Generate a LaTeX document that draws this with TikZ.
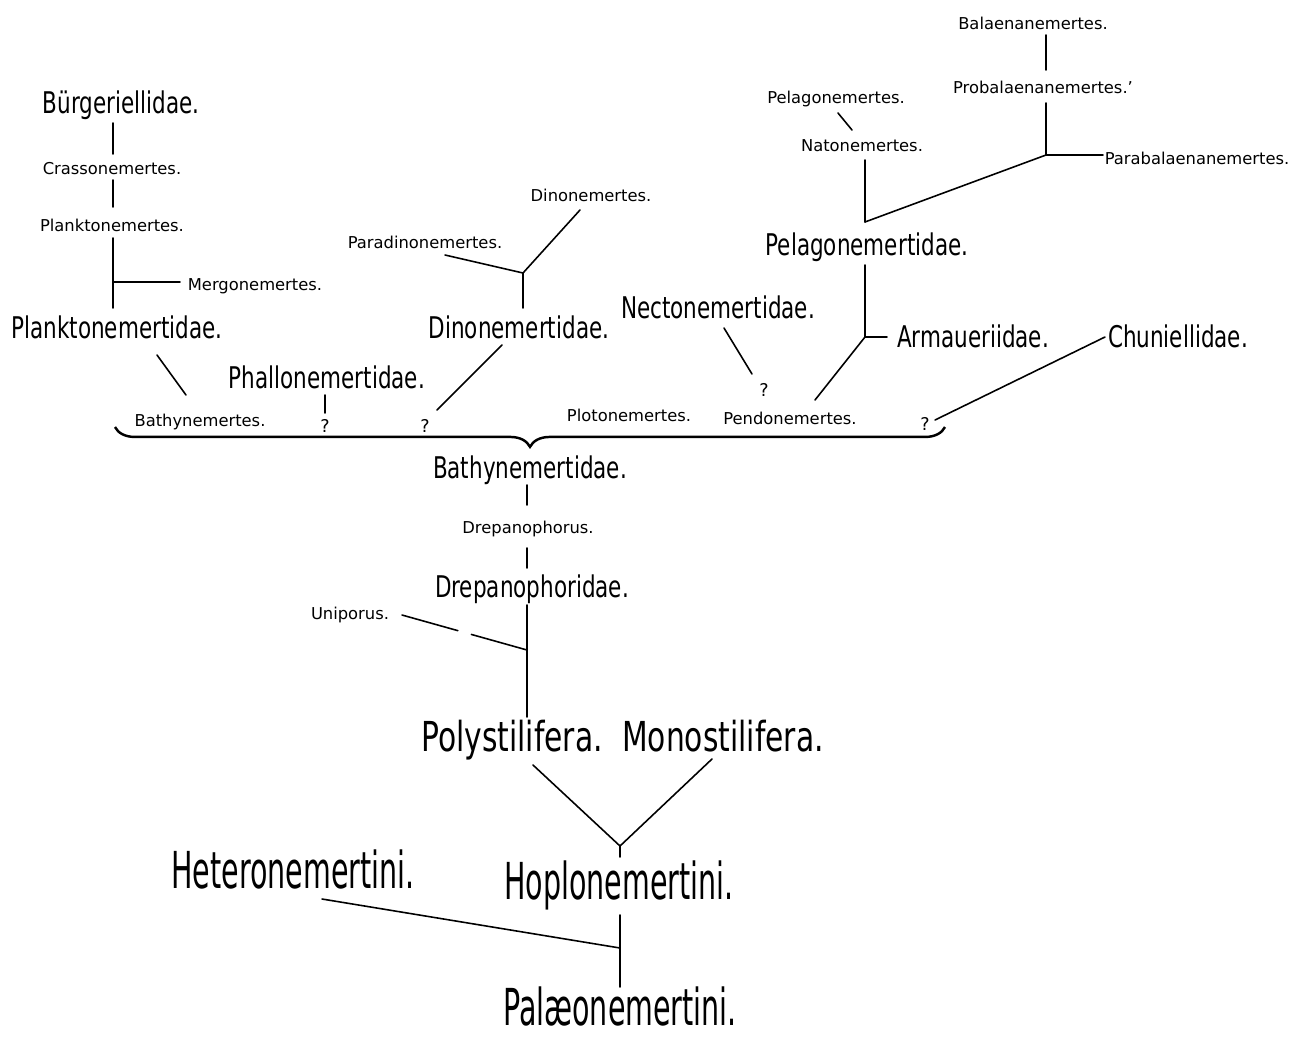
\documentclass[tikz,border=0pt]{standalone}
\usepackage{fontspec}
\setmainfont{DejaVu Sans}
\newfontfamily\handfont{DejaVu Sans}[FakeStretch=0.72]
\newfontfamily\handtall{DejaVu Sans}[FakeStretch=0.56]
\usepackage{tikz}
\usetikzlibrary{calc, decorations.pathreplacing}
\tikzset{
  genus/.style={
    inner sep=1pt, text height=9.4pt, text depth=2.5pt,
    font=\fontsize{9.3pt}{11pt}\selectfont
  },
  qmark/.style={
    inner sep=1pt, text height=9.4pt, text depth=2.5pt,
    font=\fontsize{10pt}{11pt}\selectfont
  },
  family/.style={
    inner sep=1pt, text height=16.4pt, text depth=4pt,
    font=\handfont\fontsize{17pt}{20pt}\selectfont
  },
  order/.style={
    inner sep=1pt, text height=21.5pt, text depth=4.5pt,
    font=\handfont\fontsize{23.5pt}{28pt}\selectfont
  },
  tribe/.style={
    inner sep=1pt, text height=23pt, text depth=2pt,
    font=\handtall\fontsize{29pt}{32pt}\selectfont
  },
  link/.style={line width=0.9pt, line cap=round},
  bracestroke/.style={
    line width=1.4pt, decorate,
    decoration={brace, mirror, amplitude=11.3pt}
  }
}

\begin{document}
\begin{tikzpicture}[x=0.02cm, y=-0.02cm]
  \useasboundingbox (0,0) rectangle (1306,1039);

  \node[family] (burg) at (121,103) {Bürgeriellidae.};
  \node[genus] (crasso) at (112,168) {Crassonemertes.};
  \node[genus] (plankg) at (112,225) {Planktonemertes.};
  \node[genus] (mergo) at (255,284) {Mergonemertes.};
  \node[family] (plankt) at (117,328) {Planktonemertidae.};
  \node[genus] (bathyg) at (200,420) {Bathynemertes.};
  \node[family] (phall) at (327,378) {Phallonemertidae.};
  \node[qmark] (q1) at (325,426) {?};
  \node[qmark] (q2) at (425,426) {?};

  \node[genus] (dinog) at (591,195) {Dinonemertes.};
  \node[genus] (paradino) at (425,242) {Paradinonemertes.};
  \node[family] (dinot) at (519,328) {Dinonemertidae.};
  \node[family] (necto) at (718,308) {Nectonemertidae.};
  \node[qmark] (q3) at (764,390) {?};
  \node[genus] (plotog) at (629,415) {Plotonemertes.};
  \node[genus] (pendog) at (790,418) {Pendonemertes.};
  \node[qmark] (q4) at (925,424) {?};

  \node[genus] (pelagg) at (836,97) {Pelagonemertes.};
  \node[genus] (natog) at (862,145) {Natonemertes.};
  \node[genus] (balaen) at (1033,23) {Balaenanemertes.};
  \node[genus] (probal) at (1043,87) {Probalaenanemertes.'};
  \node[genus] (parabal) at (1197,158) {Parabalaenanemertes.};
  \node[family] (pelagt) at (867,245) {Pelagonemertidae.};
  \node[family] (armau) at (973,337) {Armaueriidae.};
  \node[family] (chun) at (1178,337) {Chuniellidae.};

  \node[family] (bathyt) at (530,468) {Bathynemertidae.};
  \node[genus] (drepg) at (528,527) {Drepanophorus.};
  \node[family] (drept) at (532,587) {Drepanophoridae.};
  \node[genus] (unip) at (350,613) {Uniporus.};
  \node[order] (poly) at (512,737) {Polystilifera.};
  \node[order] (mono) at (723,737) {Monostilifera.};
  \node[tribe] (hetero) at (293,870) {Heteronemertini.};
  \node[tribe] (hoplo) at (619,881) {Hoplonemertini.};
  \node[tribe] (palaeo) at (620,1007) {Palæonemertini.};

  \coordinate (mj) at (113,282);
  \coordinate (dj) at (523,273);
  \coordinate (aj) at (865,337);
  \coordinate (pj) at (865,222);
  \coordinate (bj) at (1046,155);
  \coordinate (uj) at (527,650);
  \coordinate (hj) at (620,846);
  \coordinate (rj) at (620,948);
  \coordinate (bl) at (115,427);
  \coordinate (br) at (945,427);

  \draw[link] ($(burg)+(-8,20)$) -- ($(crasso)+(1,-14)$);
  \draw[link] ($(crasso)+(1,12)$) -- ($(plankg)+(1,-18)$);
  \draw[link] ($(plankg)+(1,13)$) -- ($(plankt)+(-4,-20)$);
  \draw[link] (mj) -- ($(mergo)+(-75,-2)$);
  \draw[link] ($(plankt)+(40,27)$) -- ($(bathyg)+(-14,-25)$);
  \draw[link] ($(phall)+(-2,17)$) -- ($(q1)+(0,-13)$);
  \draw[link] ($(dinot)+(-17,17)$) -- ($(q2)+(12,-16)$);
  \draw[link] ($(dinot)+(4,-20)$) -- (dj);
  \draw[link] (dj) -- ($(dinog)+(-11,15)$);
  \draw[link] ($(paradino)+(20,13)$) -- (dj);
  \draw[link] ($(necto)+(6,20)$) -- ($(q3)+(-12,-16)$);
  \draw[link] ($(pendog)+(25,-18)$) -- (aj);
  \draw[link] ($(pelagt)+(-2,20)$) -- (aj);
  \draw[link] (aj) -- ($(armau)+(-86,0)$);
  \draw[link] ($(q4)+(10,-4)$) -- ($(chun)+(-73,0)$);
  \draw[link] ($(natog)+(3,15)$) -- (pj);
  \draw[link] (pj) -- (bj);
  \draw[link] ($(probal)+(3,16)$) -- (bj);
  \draw[link] (bj) -- ($(parabal)+(-94,-3)$);
  \draw[link] ($(balaen)+(13,12)$) -- ($(probal)+(3,-17)$);
  \draw[link] ($(pelagg)+(2,16)$) -- ($(natog)+(-10,-15)$);
  \draw[bracestroke] (bl) -- (br);
  \draw[link] ($(bathyt)+(-3,17)$) -- ($(drepg)+(-1,-22)$);
  \draw[link] ($(drepg)+(-1,21)$) -- ($(drept)+(-5,-19)$);
  \draw[link] ($(drept)+(-5,18)$) -- ($(poly)+(15,-20)$);
  \draw[link, dash pattern=on 33pt off 8pt] ($(unip)+(52,2)$) -- (uj);
  \draw[link] ($(poly)+(21,28)$) -- (hj);
  \draw[link] ($(mono)+(-11,22)$) -- (hj);
  \draw[link] (hj) -- ($(hoplo)+(1,-24)$);
  \draw[link] ($(hoplo)+(1,34)$) -- ($(palaeo)+(0,-20)$);
  \draw[link] ($(hetero)+(29,29)$) -- (rj);
\end{tikzpicture}
\end{document}
